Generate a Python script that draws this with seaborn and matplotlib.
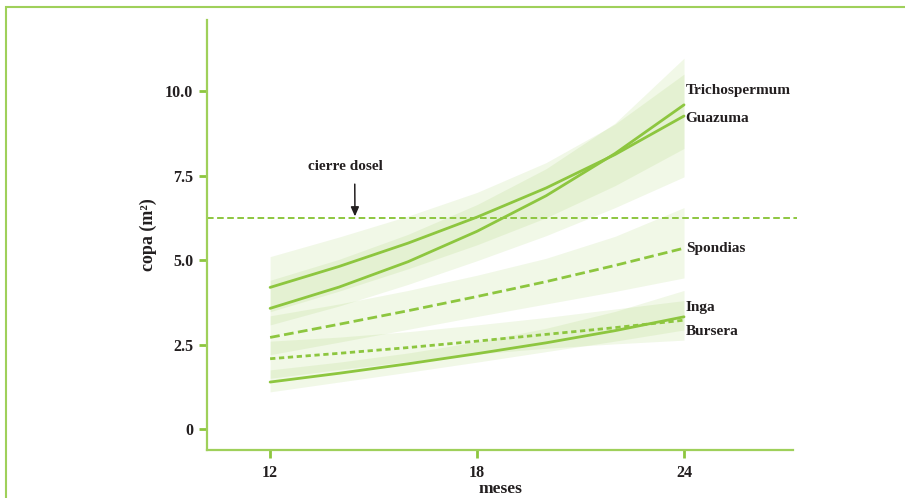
import numpy as np
import pandas as pd
import matplotlib
matplotlib.use("Agg")
import matplotlib.pyplot as plt
import seaborn as sns
from matplotlib.patches import Rectangle

# Crown area (m²) of each species at 12-24 months, with confidence band limits
months = [12, 14, 16, 18, 20, 22, 24]

trichospermum = [3.57, 4.20, 4.95, 5.85, 6.90, 8.15, 9.59]
trichospermum_lo = [3.08, 3.64, 4.28, 4.98, 5.72, 6.55, 7.46]
trichospermum_hi = [4.40, 5.02, 5.76, 6.64, 7.70, 9.05, 10.97]

guazuma = [4.19, 4.81, 5.50, 6.27, 7.13, 8.12, 9.26]
guazuma_lo = [3.47, 4.08, 4.74, 5.45, 6.25, 7.20, 8.30]
guazuma_hi = [5.10, 5.68, 6.30, 7.00, 7.88, 9.02, 10.50]

spondias = [2.71, 3.10, 3.50, 3.92, 4.36, 4.84, 5.35]
spondias_lo = [2.20, 2.57, 2.95, 3.33, 3.70, 4.07, 4.47]
spondias_hi = [3.35, 3.70, 4.10, 4.55, 5.05, 5.70, 6.55]

inga = [2.08, 2.24, 2.41, 2.60, 2.80, 3.00, 3.22]
inga_lo = [1.50, 1.76, 2.00, 2.22, 2.39, 2.52, 2.63]
inga_hi = [2.60, 2.72, 2.88, 3.08, 3.30, 3.55, 3.80]

bursera = [1.39, 1.65, 1.93, 2.23, 2.55, 2.91, 3.32]
bursera_lo = [1.10, 1.39, 1.68, 1.98, 2.29, 2.60, 2.93]
bursera_hi = [1.75, 1.98, 2.25, 2.58, 2.98, 3.48, 4.10]

canopy_closure = 6.24

species = ["Trichospermum", "Guazuma", "Spondias", "Inga", "Bursera"]
label_y = [10.0, 9.2, 5.35, 3.6, 2.9]

y_ticks = [0, 2.5, 5.0, 7.5, 10.0]
y_tick_labels = ["0", "2.5", "5.0", "7.5", "10.0"]
x_ticks = [12, 18, 24]

GREEN = "#8dc63f"
SPINE = "#9fd05a"
TEXT = "#231f20"

series = {
    "Trichospermum": (trichospermum, trichospermum_lo, trichospermum_hi, None),
    "Guazuma": (guazuma, guazuma_lo, guazuma_hi, None),
    "Spondias": (spondias, spondias_lo, spondias_hi, (3.5, 1.6)),
    "Inga": (inga, inga_lo, inga_hi, (1.9, 1.3)),
    "Bursera": (bursera, bursera_lo, bursera_hi, None),
}

frames = []
for name in species:
    mean, lo, hi, _ = series[name]
    frames.append(pd.DataFrame({"meses": months, "copa": mean, "lo": lo,
                                "hi": hi, "especie": name}))
data = pd.concat(frames, ignore_index=True)

sns.set_style("ticks")
plt.rcParams["font.family"] = ["Liberation Serif", "DejaVu Serif"]
plt.rcParams["font.weight"] = "bold"

fig = plt.figure(figsize=(9.05, 4.98), dpi=100)
ax = fig.add_axes([207 / 905, 1 - 450 / 498, (793 - 207) / 905, (450 - 20) / 498])

# confidence bands; overlapping bands build up darker tones
for name in species:
    d = data[data["especie"] == name]
    ax.fill_between(d["meses"], d["lo"], d["hi"], color=GREEN, alpha=0.12,
                    linewidth=0, zorder=1)

# fitted growth curves
for name in species:
    d = data[data["especie"] == name]
    sns.lineplot(data=d, x="meses", y="copa", ax=ax, color=GREEN,
                 linewidth=2.0, zorder=3, legend=False)
    dash = series[name][3]
    if dash is not None:
        ax.lines[-1].set_dashes(dash)
        ax.lines[-1].set_dash_capstyle("butt")

# canopy closure threshold
ax.plot([10.17, 27.28], [canopy_closure, canopy_closure], color=GREEN,
        linewidth=1.4, dashes=(3.4, 1.8), clip_on=False, zorder=2)
ax.annotate("cierre dosel", xy=(14.46, canopy_closure + 0.05),
            xytext=(14.17, 7.78), ha="center", va="center",
            fontsize=11, color=TEXT,
            arrowprops=dict(arrowstyle="-|>,head_length=0.5,head_width=0.22",
                            color=TEXT, lw=1.1, shrinkA=6, shrinkB=0,
                            relpos=(0.63, 0.0)))

# species labels at the curve ends
for name, ly in zip(species, label_y):
    ax.text(24.05, ly, name, ha="left", va="center", fontsize=11,
            color=TEXT, fontweight="bold")

ax.set_xlim(10.17, 27.16)
ax.set_ylim(-0.62, 12.1)
ax.set_xticks(x_ticks)
ax.set_xticklabels([str(t) for t in x_ticks])
ax.set_yticks(y_ticks)
ax.set_yticklabels(y_tick_labels)
ax.set_xlabel("meses", fontsize=12.5, color=TEXT, fontweight="bold", labelpad=0)
ax.set_ylabel("copa (m²)", fontsize=13, color=TEXT, fontweight="bold",
              labelpad=6)

for side in ["top", "right"]:
    ax.spines[side].set_visible(False)
for side in ["left", "bottom"]:
    ax.spines[side].set_color(SPINE)
    ax.spines[side].set_linewidth(1.6)
ax.tick_params(axis="both", colors=GREEN, width=2, length=6,
               labelcolor=TEXT, labelsize=11.5)
ax.tick_params(axis="x", pad=5)
ax.tick_params(axis="y", pad=4)
for lab in ax.get_xticklabels() + ax.get_yticklabels():
    lab.set_fontweight("bold")

# outer frame of the figure
fig.patches.append(Rectangle((6 / 905, -0.1), 1.2, 1 - 7 / 498 + 0.1,
                             transform=fig.transFigure, fill=False,
                             edgecolor=SPINE, linewidth=1.5, zorder=0))

fig.savefig("out.png", dpi=100)
